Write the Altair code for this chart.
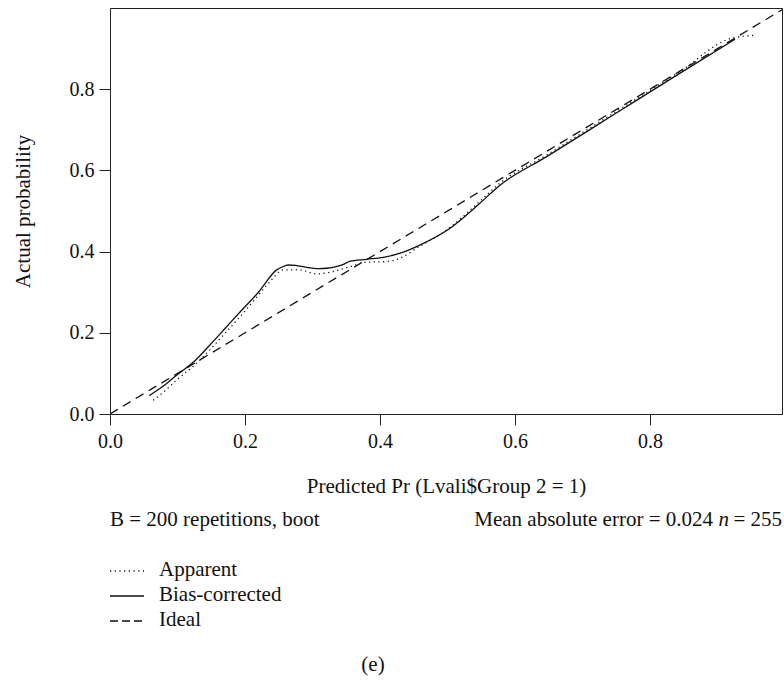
import altair as alt
import pandas as pd

# ---- data ----
app_x = [0.064, 0.08, 0.099, 0.125, 0.148, 0.17, 0.193, 0.215, 0.237, 0.257, 0.281, 0.306,
         0.331, 0.356, 0.38, 0.405, 0.43, 0.454, 0.5, 0.548, 0.575, 0.647, 0.746, 0.844, 0.92, 0.958]
app_y = [0.034, 0.055, 0.084, 0.12, 0.158, 0.198, 0.240, 0.283, 0.326, 0.355, 0.355, 0.345,
         0.351, 0.363, 0.374, 0.375, 0.384, 0.408, 0.455, 0.524, 0.565, 0.638, 0.741, 0.843, 0.925, 0.933]

bias_x = [0.058, 0.08, 0.099, 0.125, 0.148, 0.17, 0.193, 0.22, 0.247, 0.255, 0.264, 0.275, 0.291,
          0.31, 0.321, 0.335, 0.345, 0.355, 0.38, 0.405, 0.43, 0.459, 0.5, 0.548, 0.575, 0.647,
          0.746, 0.844, 0.926]
bias_y = [0.045, 0.07, 0.096, 0.13, 0.170, 0.21, 0.252, 0.30, 0.355, 0.362, 0.367, 0.366, 0.361,
          0.358, 0.359, 0.363, 0.368, 0.376, 0.381, 0.386, 0.396, 0.416, 0.453, 0.519, 0.560, 0.634,
          0.737, 0.839, 0.923]

ideal_x = [0.0, 1.0]
ideal_y = [0.0, 1.0]

tick_values = [0.0, 0.2, 0.4, 0.6, 0.8]
x_title = "Predicted Pr (Lvali$Group 2 = 1)"
y_title = "Actual probability"
note_left = "B = 200 repetitions, boot"
note_right_a = "Mean absolute error = 0.024"
note_right_n = "n"
note_right_b = "= 255"
legend_labels = ["Apparent", "Bias-corrected", "Ideal"]
panel_label = "(e)"

FONT = "Liberation Serif"
FS = 21
TFS = 20
W, H = 672, 406

xs = alt.Scale(domain=[0, 0.9956], nice=False, zero=False)
ys = alt.Scale(domain=[0, 1.0], nice=False, zero=False)

x_axis = alt.Axis(values=tick_values, format=".1f", title=x_title, tickSize=11, labelPadding=6,
                  titlePadding=24, grid=False, domainColor="#222", tickColor="#222",
                  labelFont=FONT, labelFontSize=TFS, titleFont=FONT, titleFontSize=FS,
                  titleFontWeight="normal", labelColor="#111", titleColor="#111", labelFlush=False)
y_axis = alt.Axis(values=tick_values, format=".1f", title=y_title, tickSize=11, labelPadding=5,
                  titlePadding=36, grid=False, domainColor="#222", tickColor="#222",
                  labelFont=FONT, labelFontSize=TFS, titleFont=FONT, titleFontSize=FS,
                  titleFontWeight="normal", labelColor="#111", titleColor="#111", labelFlush=False)

def xenc():
    return alt.X("x:Q", scale=xs, axis=x_axis)

def yenc():
    return alt.Y("y:Q", scale=ys, axis=y_axis)

df_app = pd.DataFrame({"x": app_x, "y": app_y})
df_bias = pd.DataFrame({"x": bias_x, "y": bias_y})
df_ideal = pd.DataFrame({"x": ideal_x, "y": ideal_y})

ideal = alt.Chart(df_ideal).mark_line(color="#111", strokeWidth=1.3, strokeDash=[9, 6], clip=True).encode(
    x=xenc(), y=yenc())
bias = alt.Chart(df_bias).mark_line(color="#111", strokeWidth=1.3, interpolate="monotone").encode(
    x=xenc(), y=yenc())
app = alt.Chart(df_app).mark_line(color="#111", strokeWidth=1.3, strokeDash=[1.2, 3.5],
                                  interpolate="monotone").encode(x=xenc(), y=yenc())

one = pd.DataFrame({"k": [0]})

def txt(text, x, y, align="left", style="normal"):
    return alt.Chart(one).mark_text(text=text, font=FONT, fontSize=FS, align=align, baseline="middle",
                                    fontStyle=style, color="#111").encode(x=alt.value(x), y=alt.value(y))

texts = [
    txt(note_left, 0, 512),
    txt(note_right_a, 603, 512, align="right"),
    txt(note_right_n, 619, 512, align="right", style="italic"),
    txt(note_right_b, 672, 512, align="right"),
    txt(legend_labels[0], 49, 562),
    txt(legend_labels[1], 49, 587),
    txt(legend_labels[2], 49, 612),
    txt(panel_label, 263, 657, align="center"),
]

def sample(y, dash):
    kw = dict(color="#111", strokeWidth=1.3)
    if dash:
        kw["strokeDash"] = dash
    return alt.Chart(one).mark_rule(**kw).encode(x=alt.value(0), x2=alt.value(34), y=alt.value(y))

samples = [sample(563, [1.2, 3.5]), sample(588, None), sample(613, [8, 4])]

chart = alt.layer(ideal, bias, app, *samples, *texts).properties(
    width=W, height=H,
    padding={"left": 110, "top": 8, "right": 2, "bottom": 266},
    autosize=alt.AutoSizeParams(type="none"),
    background="white",
).configure_view(stroke="#222", strokeWidth=1)

chart.save("out.html", embed_options={"renderer": "svg", "actions": False})
